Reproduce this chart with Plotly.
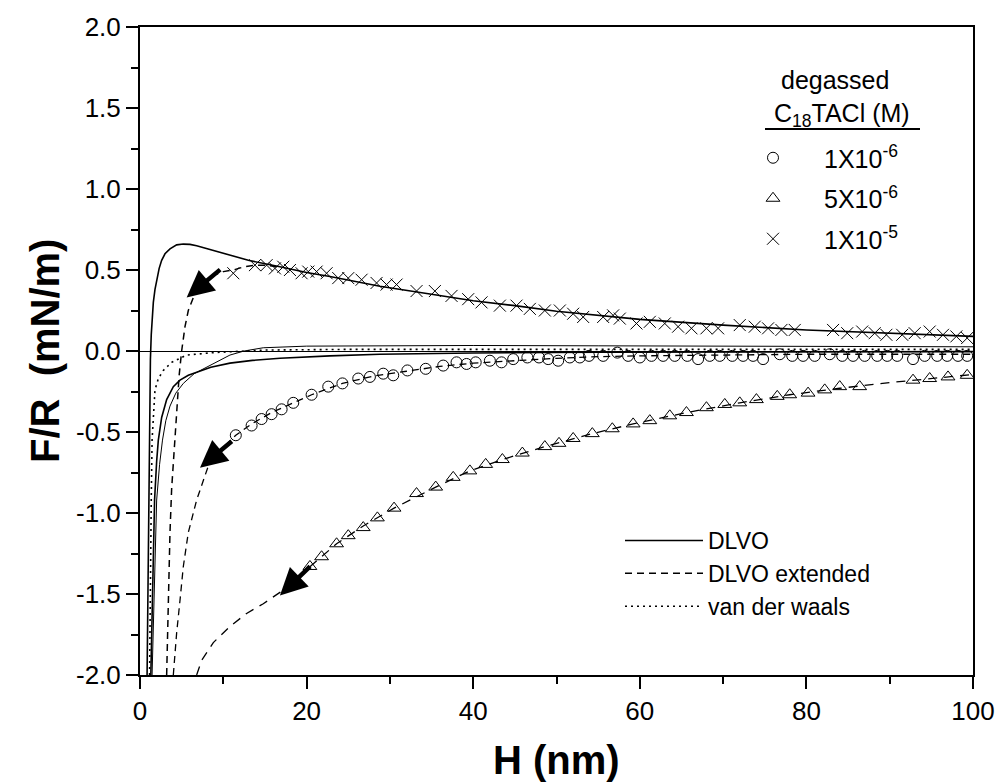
import plotly.graph_objects as go

# ---------------- data ----------------
# 1X10^-5 M (crosses)
h_c5 = [11.2, 13.8, 15.2, 16.2, 17.2, 18.0, 19.4, 20.2, 21.2, 22.4, 23.8, 25.0, 26.6, 28.4,
        29.6, 30.8, 33.2, 35.4, 37.4, 39.4, 41.0, 43.2, 45.2, 46.8, 48.6, 50.4, 52.0, 53.2,
        55.6, 56.8, 57.6, 59.6, 61.2, 63.0, 64.6, 66.2, 68.0, 69.4, 72.0, 73.8, 75.4, 77.0,
        78.6, 83.2, 84.9, 86.7, 88.2, 89.6, 91.5, 93.0, 94.8, 96.4, 98.0, 99.3]
f_c5 = [0.48, 0.53, 0.53, 0.51, 0.52, 0.50, 0.48, 0.49, 0.49, 0.48, 0.45, 0.45, 0.44, 0.42,
        0.41, 0.41, 0.37, 0.37, 0.34, 0.32, 0.30, 0.28, 0.28, 0.26, 0.25, 0.25, 0.23, 0.21,
        0.21, 0.22, 0.20, 0.17, 0.18, 0.17, 0.15, 0.14, 0.14, 0.14, 0.16, 0.15, 0.14, 0.13,
        0.13, 0.13, 0.11, 0.12, 0.11, 0.10, 0.10, 0.11, 0.12, 0.10, 0.09, 0.08]

# 1X10^-6 M (circles)
h_c6 = [11.5, 13.4, 14.6, 15.8, 17.0, 18.4, 20.6, 22.6, 24.3, 26.2, 27.6, 29.2, 30.4, 32.1,
        34.3, 36.4, 38.0, 39.2, 40.3, 42.0, 43.4, 44.8, 46.5, 47.9, 49.0, 50.2, 51.6, 52.8,
        53.9, 55.6, 57.3, 58.6, 60.0, 61.4, 62.8, 64.2, 65.7, 67.0, 68.4, 69.6, 71.1, 72.4,
        73.6, 74.8, 76.8, 78.3, 79.6, 81.0, 82.8, 84.3, 85.6, 87.0, 88.5, 89.7, 90.9, 92.8,
        94.2, 95.7, 96.9, 98.2, 99.3]
f_c6 = [-0.52, -0.46, -0.42, -0.39, -0.36, -0.32, -0.27, -0.22, -0.20, -0.17, -0.16, -0.14,
        -0.15, -0.12, -0.11, -0.09, -0.07, -0.08, -0.07, -0.06, -0.07, -0.05, -0.04, -0.04,
        -0.05, -0.06, -0.04, -0.04, -0.03, -0.03, -0.01, -0.03, -0.04, -0.03, -0.03, -0.03,
        -0.03, -0.05, -0.03, -0.03, -0.03, -0.03, -0.03, -0.05, -0.02, -0.03, -0.03, -0.03,
        -0.02, -0.03, -0.03, -0.03, -0.03, -0.03, -0.03, -0.05, -0.03, -0.03, -0.03, -0.03,
        -0.03]

# 5X10^-6 M (triangles)
h_t5 = [20.4, 21.8, 23.6, 25.0, 26.8, 28.5, 30.5, 33.2, 35.5, 37.6, 39.6, 41.5, 43.5, 45.9,
        48.6, 50.3, 52.0, 54.3, 56.7, 59.2, 61.2, 63.6, 65.6, 68.0, 70.2, 72.0, 74.0, 76.5,
        78.0, 80.2, 82.2, 84.0, 86.4, 92.8, 94.8, 97.0, 99.3]
f_t5 = [-1.33, -1.27, -1.19, -1.14, -1.09, -1.03, -0.97, -0.88, -0.84, -0.78, -0.74, -0.70,
        -0.67, -0.63, -0.59, -0.57, -0.54, -0.51, -0.48, -0.45, -0.43, -0.40, -0.38, -0.35,
        -0.33, -0.32, -0.30, -0.28, -0.27, -0.26, -0.24, -0.22, -0.22, -0.18, -0.17, -0.16,
        -0.15]

# DLVO fit, 1X10^-5 (solid, with maximum)
h_dlvo_a = [0.85, 0.95, 1.05, 1.15, 1.25, 1.35, 1.45, 1.6, 1.8, 2.0, 2.3, 2.6, 3.0, 3.6, 4.4,
            5.2, 6.0, 6.8, 8.8, 10.8, 13.0, 16.8, 20.0, 22.8, 28.8, 35.0, 40.0, 45.0, 50.0,
            60.0, 70.0, 80.0, 90.0, 100.0]
f_dlvo_a = [-2.0, -1.4, -0.8, -0.35, -0.05, 0.1, 0.2, 0.3, 0.38, 0.44, 0.51, 0.56, 0.60,
            0.63, 0.655, 0.66, 0.658, 0.65, 0.62, 0.59, 0.56, 0.52, 0.485, 0.46, 0.40, 0.35,
            0.31, 0.28, 0.245, 0.195, 0.16, 0.13, 0.11, 0.09]

# DLVO fit (thin solid, slightly repulsive tail)
h_dlvo_b = [1.45, 1.7, 2.0, 2.35, 2.7, 3.1, 3.6, 4.3, 5.2, 6.5, 8.0, 9.5, 10.8, 12.5, 14.8,
            20.0, 28.8, 40.0, 55.0, 70.0, 85.0, 100.0]
f_dlvo_b = [-2.0, -1.5, -0.92, -0.7, -0.55, -0.43, -0.34, -0.26, -0.20, -0.14, -0.10, -0.055,
            -0.025, 0.0, 0.02, 0.03, 0.033, 0.034, 0.032, 0.03, 0.028, 0.026]

# DLVO fit (solid, attractive tail)
h_dlvo_c = [1.3, 1.5, 1.75, 2.0, 2.2, 2.6, 3.2, 4.0, 4.8, 5.8, 6.8, 8.5, 10.8, 13.5, 16.8,
            22.8, 28.8, 40.0, 55.0, 70.0, 85.0, 100.0]
f_dlvo_c = [-2.0, -1.5, -0.92, -0.68, -0.55, -0.41, -0.30, -0.22, -0.18, -0.15, -0.13, -0.10,
            -0.075, -0.058, -0.045, -0.03, -0.02, -0.012, -0.008, -0.006, -0.005, -0.004]

# DLVO extended fit, 1X10^-5 (dashed)
h_ext_a = [3.2, 3.3, 3.45, 3.6, 3.8, 4.0, 4.2, 4.4, 4.7, 5.0, 5.4, 5.8, 6.4, 7.0, 8.0, 9.0,
           10.0, 11.2, 12.5, 13.8, 15.2, 16.5]
f_ext_a = [-2.0, -1.74, -1.4, -1.12, -0.85, -0.7, -0.55, -0.35, -0.15, 0.0, 0.15, 0.25,
           0.33, 0.39, 0.44, 0.47, 0.49, 0.50, 0.52, 0.53, 0.53, 0.52]

# DLVO extended fit, 1X10^-6 (dashed)
h_ext_b = [4.0, 4.4, 4.8, 5.2, 5.8, 6.8, 8.2, 9.5, 11.5, 13.4, 15.8, 18.4, 20.6, 24.3, 28.0,
           32.0, 36.0, 40.0, 45.0, 50.0, 55.0, 60.0, 70.0, 80.0, 90.0, 100.0]
f_ext_b = [-2.0, -1.74, -1.54, -1.33, -1.12, -0.92, -0.71, -0.62, -0.52, -0.45, -0.38, -0.32,
           -0.27, -0.20, -0.155, -0.125, -0.095, -0.075, -0.06, -0.045, -0.035, -0.03,
           -0.025, -0.02, -0.02, -0.02]

# DLVO extended fit, 5X10^-6 (dashed)
h_ext_c = [6.8, 7.4, 8.8, 10.8, 12.8, 14.8, 16.8, 20.4, 23.6, 26.8, 30.5, 35.5, 39.6, 43.5,
           48.6, 54.3, 59.2, 65.6, 72.0, 78.0, 84.0, 90.0, 95.0, 100.0]
f_ext_c = [-2.0, -1.91, -1.80, -1.70, -1.62, -1.56, -1.49, -1.33, -1.19, -1.08, -0.97, -0.84,
           -0.74, -0.67, -0.59, -0.51, -0.45, -0.38, -0.32, -0.27, -0.23, -0.195, -0.17,
           -0.145]

# van der Waals (dotted)
h_vdw = [1.15, 1.25, 1.35, 1.45, 1.6, 1.8, 2.2, 2.8, 3.8, 5.6, 8.8, 12.0, 15.0, 25.0, 40.0,
         60.0, 80.0, 100.0]
f_vdw = [-2.0, -1.3, -0.92, -0.55, -0.38, -0.24, -0.17, -0.12, -0.07, -0.025, -0.01, 0.0,
         0.006, 0.01, 0.01, 0.01, 0.01, 0.01]

# arrows: (tail H, tail F, head H, head F)
arrows = [(9.8, 0.51, 5.6, 0.33), (11.2, -0.55, 7.2, -0.72), (20.6, -1.32, 16.8, -1.51)]

series_names = ["1X10<sup>-6</sup>", "5X10<sup>-6</sup>", "1X10<sup>-5</sup>"]
line_names = ["DLVO", "DLVO extended", "van der waals"]
legend_title = ["degassed", "C<sub>18</sub>TACl (M)"]
x_title = "<b>H (nm)</b>"
y_title = "<b>F/R\u00a0\u00a0(mN/m)</b>"

y_ticks = [-2.0, -1.5, -1.0, -0.5, 0.0, 0.5, 1.0, 1.5, 2.0]
y_ticklabels = ["-2.0", "-1.5", "-1.0", "-0.5", "0.0", "0.5", "1.0", "1.5", "2.0"]
x_ticks = [0, 20, 40, 60, 80, 100]
x_ticklabels = ["0", "20", "40", "60", "80", "100"]

FONT = "Liberation Sans, Arial, sans-serif"
BLACK = "black"

W, H = 1000, 782
L, R, T, B = 140, 27, 27, 107
pw, ph = W - L - R, H - T - B


def px(x):
    return (x - L) / pw


def py(y):
    return (H - B - y) / ph


fig = go.Figure()

# fitted curves
fig.add_trace(go.Scatter(x=h_dlvo_a, y=f_dlvo_a, mode="lines", name=line_names[0],
                         line=dict(color=BLACK, width=1.6), legend="legend2"))
fig.add_trace(go.Scatter(x=h_dlvo_b, y=f_dlvo_b, mode="lines", showlegend=False,
                         line=dict(color=BLACK, width=1.0), legend="legend2"))
fig.add_trace(go.Scatter(x=h_dlvo_c, y=f_dlvo_c, mode="lines", showlegend=False,
                         line=dict(color=BLACK, width=1.6), legend="legend2"))
fig.add_trace(go.Scatter(x=h_ext_a, y=f_ext_a, mode="lines", name=line_names[1],
                         line=dict(color=BLACK, width=1.5, dash="7px,5px"), legend="legend2"))
fig.add_trace(go.Scatter(x=h_ext_b, y=f_ext_b, mode="lines", showlegend=False,
                         line=dict(color=BLACK, width=1.3, dash="7px,5px"), legend="legend2"))
fig.add_trace(go.Scatter(x=h_ext_c, y=f_ext_c, mode="lines", showlegend=False,
                         line=dict(color=BLACK, width=1.3, dash="9px,7px"), legend="legend2"))
fig.add_trace(go.Scatter(x=h_vdw, y=f_vdw, mode="lines", name=line_names[2],
                         line=dict(color=BLACK, width=1.6, dash="2px,4px"), legend="legend2"))

# data points
fig.add_trace(go.Scatter(x=h_c6, y=f_c6, mode="markers", name=series_names[0],
                         legendgroup="g1",
                         marker=dict(symbol="circle-open", color=BLACK, size=11,
                                     line=dict(color=BLACK, width=1)), legend="legend"))
fig.add_trace(go.Scatter(x=h_t5, y=f_t5, mode="markers", name=series_names[1],
                         legendgroup="g2",
                         marker=dict(symbol="triangle-up-open", color=BLACK, size=12,
                                     line=dict(color=BLACK, width=1)), legend="legend"))
fig.add_trace(go.Scatter(x=h_c5, y=f_c5, mode="markers", name=series_names[2],
                         legendgroup="g3",
                         marker=dict(symbol="x-thin-open", color=BLACK, size=12,
                                     line=dict(color=BLACK, width=1)), legend="legend"))

for th, tf, hh, hf in arrows:
    fig.add_annotation(x=hh, y=hf, ax=th, ay=tf, xref="x", yref="y", axref="x", ayref="y",
                       text="", showarrow=True, arrowhead=2, arrowsize=1.2, arrowwidth=4.5,
                       arrowcolor=BLACK)

# legend heading (two lines, the second underlined)
fig.add_annotation(x=px(835), y=py(80), xref="paper", yref="paper", text=legend_title[0],
                   showarrow=False, xanchor="center", yanchor="middle",
                   font=dict(family=FONT, size=25, color=BLACK))
fig.add_annotation(x=px(842), y=py(115), xref="paper", yref="paper", text=legend_title[1],
                   showarrow=False, xanchor="center", yanchor="middle",
                   font=dict(family=FONT, size=25, color=BLACK))
fig.add_shape(type="line", xref="paper", yref="paper",
              x0=px(765), x1=px(920), y0=py(129), y1=py(129),
              line=dict(color=BLACK, width=2))

# axis titles
fig.add_annotation(x=px(556), y=py(760), xref="paper", yref="paper", text=x_title,
                   showarrow=False, xanchor="center", yanchor="middle",
                   font=dict(family=FONT, size=40, color=BLACK))
fig.add_annotation(x=px(45), y=py(351), xref="paper", yref="paper", text=y_title,
                   showarrow=False, xanchor="center", yanchor="middle", textangle=-90,
                   font=dict(family=FONT, size=40, color=BLACK))

axis_common = dict(showline=True, linecolor=BLACK, linewidth=2, mirror=True,
                   ticks="outside", ticklen=12, tickwidth=2, tickcolor=BLACK,
                   showgrid=False, automargin=False,
                   tickfont=dict(family=FONT, size=26, color=BLACK))

fig.update_xaxes(range=[0, 100], tickmode="array", tickvals=x_ticks, ticktext=x_ticklabels,
                 zeroline=False,
                 minor=dict(ticks="outside", ticklen=7, tickwidth=2, tickcolor=BLACK, dtick=10,
                            tick0=0, showgrid=False),
                 **axis_common)
fig.update_yaxes(range=[-2, 2], tickmode="array", tickvals=y_ticks, ticktext=y_ticklabels,
                 zeroline=True, zerolinecolor=BLACK, zerolinewidth=1,
                 minor=dict(ticks="outside", ticklen=7, tickwidth=2, tickcolor=BLACK,
                            dtick=0.25, tick0=0, showgrid=False),
                 **axis_common)

fig.update_layout(
    width=W, height=H,
    margin=dict(l=L, r=R, t=T, b=B, autoexpand=False),
    paper_bgcolor="white", plot_bgcolor="white",
    font=dict(family=FONT, color=BLACK),
    legend=dict(x=px(722), y=py(135), xanchor="left", yanchor="top",
                bgcolor="rgba(0,0,0,0)", borderwidth=0,
                font=dict(family=FONT, size=25, color=BLACK),
                itemwidth=92, tracegroupgap=5),
    legend2=dict(x=px(620), y=py(519), xanchor="left", yanchor="top",
                 bgcolor="rgba(0,0,0,0)", borderwidth=0,
                 font=dict(family=FONT, size=23, color=BLACK),
                 itemwidth=78, tracegroupgap=0),
)

fig.write_html("out.html")
